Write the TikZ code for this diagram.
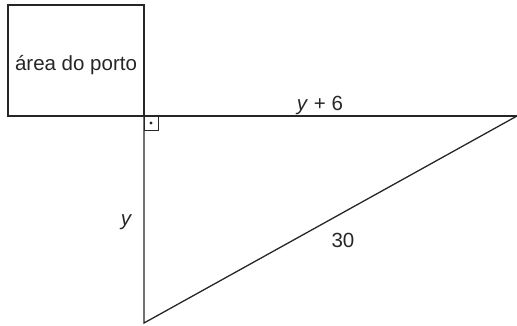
\documentclass[tikz,border=0pt]{standalone}
\usepackage{fontspec}
\setmainfont{Liberation Sans}
\begin{document}
\begin{tikzpicture}[x=1pt,y=-1pt,
  edge/.style={line width=1.3pt,black!85},
  lbl/.style={font=\fontsize{20.5}{24}\selectfont,text=black!85,inner sep=0pt}]
\useasboundingbox (0,0) rectangle (517,325);
\coordinate (sqtl) at (8,5);
\coordinate (A) at (144,116);
\coordinate (B) at (517,116);
\coordinate (C) at (144,323);
\coordinate (L) at (8,116);
\draw[edge] (sqtl) rectangle (A);
\node[lbl,anchor=base] (port) at (76,70) {área do porto};
\draw[edge] (L) -- (B);
\draw[edge] (A) -- (C) -- (B);
\draw[line width=1pt,black!85] (A) rectangle (158,130);
\fill[black!85] (151,123) circle (1.6);
\node[lbl,anchor=base] (ysix) at (320,110) {\textit{y} + 6};
\node[lbl,anchor=base] (yl) at (126.5,225) {\textit{y}};
\node[lbl,anchor=base] (thirty) at (343,247) {30};
\end{tikzpicture}
\end{document}
